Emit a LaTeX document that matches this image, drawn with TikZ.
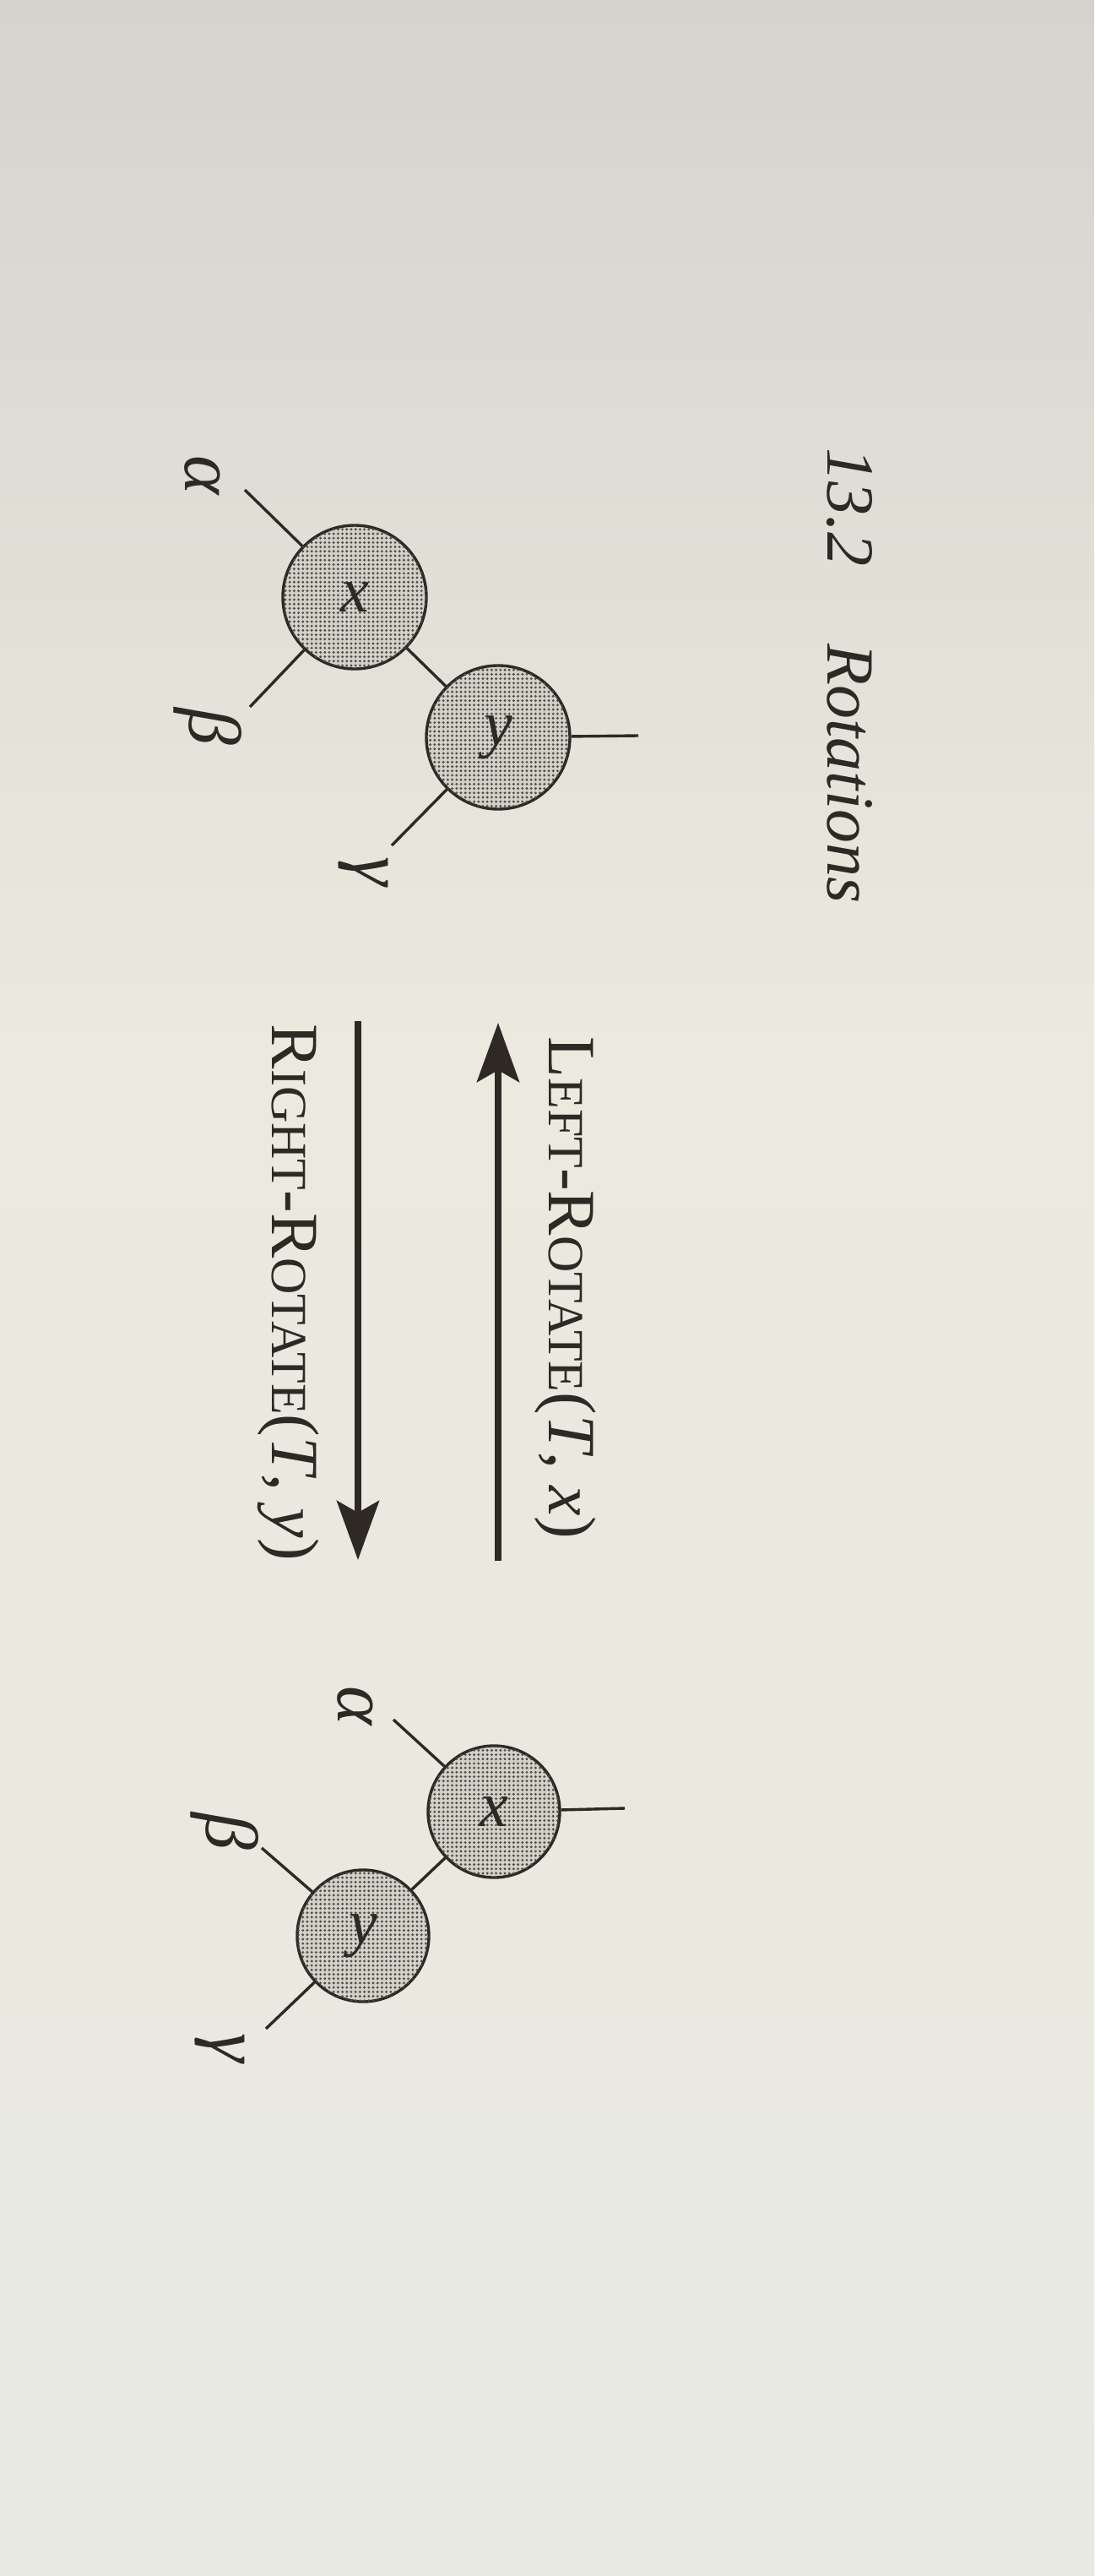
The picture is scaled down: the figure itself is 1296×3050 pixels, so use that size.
\documentclass[tikz,border=0pt]{standalone}
\usepackage{fontspec}
\setmainfont{Liberation Serif}
\usetikzlibrary{arrows.meta,patterns.meta}

\definecolor{ink}{RGB}{46,41,37}
\definecolor{paperTop}{RGB}{214,211,207}
\definecolor{paperMid}{RGB}{236,233,222}
\definecolor{paperBot}{RGB}{231,233,226}
\definecolor{dotfill}{RGB}{212,209,201}
\definecolor{dotink}{RGB}{80,76,71}

\newcommand{\sizept}[1]{\fontsize{#1}{#1}\selectfont}
\newcommand{\smallcap}[1]{{\fontsize{15pt}{15pt}\selectfont #1}}

\begin{document}
\begin{tikzpicture}[x=0.25pt,y=-0.25pt,
  treenode/.style={circle, draw=ink, line width=0.85pt, fill=dotfill, inner sep=0pt,
    text=ink, font=\sizept{19pt}\itshape,
    postaction={pattern={Dots[distance=1.3pt,radius=0.4pt]}, pattern color=dotink}},
  bignode/.style={treenode, minimum size=42.5pt},
  smallnode/.style={treenode, minimum size=39pt},
  edge/.style={draw=ink, line width=0.85pt},
  leaf/.style={text=ink, font=\sizept{22pt}\itshape, inner sep=0pt, rotate=-90},
  label/.style={text=ink, inner sep=0pt, rotate=-90, anchor=base west},
  bigarrow/.style={draw=ink, line width=2pt,
    -{Stealth[length=17.5pt, width=12.5pt, inset=3.5pt]}}
]
% page, greyer towards the top
\shade[top color=paperTop, bottom color=paperMid] (0,0) rectangle (1296,1250);
\shade[top color=paperMid, bottom color=paperBot] (0,1249) rectangle (1296,3050);
\useasboundingbox (0,0) rectangle (1296,3050);

% running head
\node[label, font=\sizept{20pt}\itshape] (head) at (980,530)
  {13.2\hspace{1.15em}Rotations};

% tree before the left rotation
\node[bignode] (xL) at (420,707) {x};
\node[bignode] (yL) at (590,873) {y};
\coordinate (pL) at (756,871);
\coordinate (aEndL) at (290,580);
\coordinate (bEndL) at (296,837);
\coordinate (cEndL) at (464,1001);
\node[leaf] (aL) at (240,563) {α};
\node[leaf] (bL) at (246,860) {β};
\node[leaf] (cL) at (430,1032) {γ};
\draw[edge] (yL) -- (pL);
\draw[edge] (yL) -- (xL);
\draw[edge] (yL) -- (cEndL);
\draw[edge] (xL) -- (aEndL);
\draw[edge] (xL) -- (bEndL);

% rotation arrows
\coordinate (upTail) at (590,1848);
\coordinate (upTip) at (590,1211);
\coordinate (downTail) at (424,1209);
\coordinate (downTip) at (424,1847);
\draw[bigarrow] (upTail) -- (upTip);
\draw[bigarrow] (downTail) -- (downTip);
\node[label, font=\sizept{20pt}] (leftrot) at (650,1227)
  {L\smallcap{EFT}-R\smallcap{OTATE}(\textit{T}, \textit{x})};
\node[label, font=\sizept{20pt}] (rightrot) at (322,1212)
  {R\smallcap{IGHT}-R\smallcap{OTATE}(\textit{T}, \textit{y})};

% tree after the left rotation
\node[smallnode] (xR) at (585,2145) {x};
\node[smallnode] (yR) at (430,2292) {y};
\coordinate (pR) at (740,2141);
\coordinate (aEndR) at (466,2036);
\coordinate (bEndR) at (310,2188);
\coordinate (cEndR) at (315,2402);
\node[leaf] (aR) at (421,2020) {α};
\node[leaf] (bR) at (266,2168) {β};
\node[leaf] (cR) at (260,2425) {γ};
\draw[edge] (xR) -- (pR);
\draw[edge] (xR) -- (yR);
\draw[edge] (xR) -- (aEndR);
\draw[edge] (yR) -- (bEndR);
\draw[edge] (yR) -- (cEndR);
\end{tikzpicture}
\end{document}
